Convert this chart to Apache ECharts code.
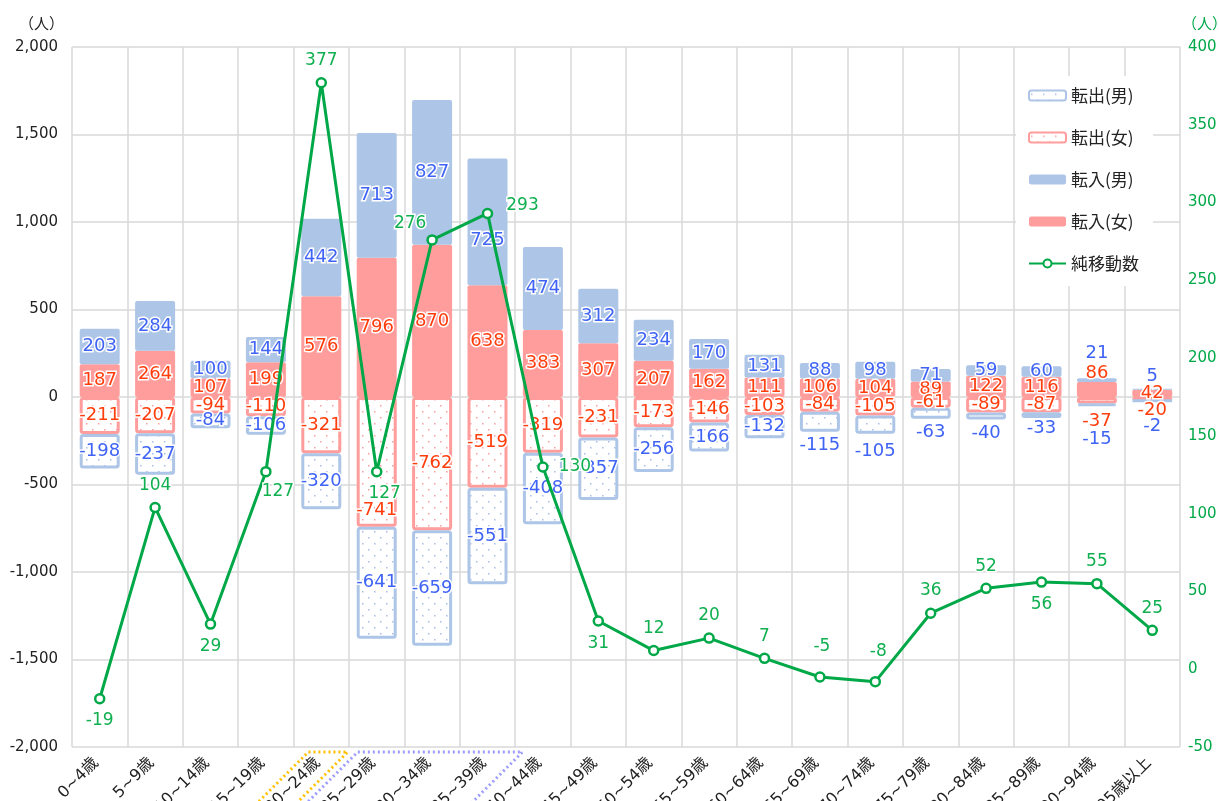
<!DOCTYPE html>
<html>
<head>
<meta charset="utf-8">
<script src="https://cdn.jsdelivr.net/npm/echarts@6/dist/echarts.min.js"></script>
<style>
html, body { margin: 0; padding: 0; background: #fff; }
#chart-content { width: 1219px; height: 801px; }
</style>
</head>
<body>
<div id="chart-content"></div>
<script>
// 年齢区分
const categories = ['0~4歳', '5~9歳', '10~14歳', '15~19歳', '20~24歳', '25~29歳', '30~34歳', '35~39歳', '40~44歳', '45~49歳',
  '50~54歳', '55~59歳', '60~64歳', '65~69歳', '70~74歳', '75~79歳', '80~84歳', '85~89歳', '90~94歳', '95歳以上'];
const inMale = [203, 284, 100, 144, 442, 713, 827, 725, 474, 312, 234, 170, 131, 88, 98, 71, 59, 60, 21, 5];
const inFemale = [187, 264, 107, 199, 576, 796, 870, 638, 383, 307, 207, 162, 111, 106, 104, 89, 122, 116, 86, 42];
const outFemale = [-211, -207, -94, -110, -321, -741, -762, -519, -319, -231, -173, -146, -103, -84, -105, -61, -89, -87, -37, -20];
const outMale = [-198, -237, -84, -106, -320, -641, -659, -551, -408, -357, -256, -166, -132, -115, -105, -63, -40, -33, -15, -2];
const netMove = [-19, 104, 29, 127, 377, 127, 276, 293, 130, 31, 12, 20, 7, -5, -8, 36, 52, 56, 55, 25];

const leftTicks = { min: -2000, max: 2000, interval: 500 };
const rightTicks = { min: -50, max: 400, interval: 50 };

const BLUE = '#adc5e6';
const PINK = '#ff9c9c';
const GREEN = '#00a848';
const FONT = '"DejaVu Sans", "Noto Sans CJK JP", sans-serif';
const JP = '"Noto Sans CJK JP", sans-serif';

// ずれたラベルの位置調整（px）
const barLabelShift = {
  inMale: { 7: 18, 18: -27, 19: -13 },
  inFemale: { 18: -16 },
  outFemale: { 5: 48, 18: 21, 19: 12 },
  outMale: { 13: 24, 14: 27, 15: 19, 16: 17, 17: 13, 18: 35, 19: 26 }
};
const netLabelPos = {
  0: { position: 'bottom' },
  2: { position: 'bottom' },
  3: { position: 'bottom', offset: [12, -2] },
  5: { position: 'bottom', offset: [8, 0] },
  6: { position: 'top', offset: [-22, 6] },
  7: { position: 'right', offset: [5, -8] },
  8: { position: 'right', offset: [2, 0] },
  9: { position: 'bottom' },
  13: { position: 'top', offset: [2, -8] },
  14: { position: 'top', offset: [3, -8] },
  17: { position: 'bottom' }
};

function dotPattern(color) {
  const c = document.createElement('canvas');
  c.width = 12; c.height = 12;
  const ctx = c.getContext('2d');
  ctx.fillStyle = '#fff';
  ctx.fillRect(0, 0, 12, 12);
  ctx.fillStyle = color;
  ctx.fillRect(2, 3, 1.5, 1.5);
  ctx.fillRect(8, 9, 1.5, 1.5);
  return { image: c, repeat: 'repeat' };
}

function barData(values, key) {
  const shift = barLabelShift[key] || {};
  return values.map((v, i) => shift[i] !== undefined
    ? { value: v, label: { offset: [0, shift[i]] } }
    : v);
}

const chart = echarts.init(document.getElementById('chart-content'));

const labelBase = {
  show: true,
  position: 'inside',
  fontSize: 18,
  fontFamily: FONT,
  textBorderColor: '#fff',
  textBorderWidth: 3
};

const option = {
  animation: false,
  textStyle: { fontFamily: FONT },
  grid: { left: 72, right: 39, top: 47, bottom: 54, outerBoundsMode: 'none', containLabel: false },
  legend: {
    orient: 'vertical',
    left: 1016,
    top: 76,
    padding: [11, 14, 14, 12],
    backgroundColor: '#fff',
    itemWidth: 37,
    itemHeight: 10,
    itemGap: 25,
    textStyle: { fontSize: 17, color: '#222', fontFamily: JP },
    data: ['転出(男)', '転出(女)', '転入(男)', '転入(女)', '純移動数']
  },
  xAxis: {
    type: 'category',
    data: categories,
    axisLine: { show: false, onZero: false },
    axisTick: { show: false },
    splitLine: { show: true, lineStyle: { color: '#d9d9d9', width: 1.5 } },
    axisLabel: { rotate: 45, fontSize: 16, color: '#222', margin: 10, interval: 0, padding: [0, 5, 0, 0] }
  },
  yAxis: [
    {
      type: 'value',
      ...leftTicks,
      name: '（人）',
      nameGap: 16,
      nameTextStyle: { fontSize: 15, color: '#222', align: 'right', padding: [0, 8, 0, 0], fontFamily: JP },
      axisLine: { show: false },
      axisTick: { show: false },
      splitLine: { lineStyle: { color: '#d9d9d9', width: 1.5 } },
      axisLabel: { fontSize: 15, color: '#222', margin: 14, formatter: v => v.toLocaleString('en-US') }
    },
    {
      type: 'value',
      ...rightTicks,
      name: '（人）',
      nameGap: 16,
      nameTextStyle: { fontSize: 15, color: GREEN, align: 'left', padding: [0, 0, 0, 2], fontFamily: JP },
      axisLine: { show: false },
      axisTick: { show: false },
      splitLine: { show: false },
      axisLabel: { fontSize: 15, color: GREEN, margin: 8 }
    }
  ],
  series: [
    {
      name: '転入(女)',
      type: 'bar',
      stack: 'move',
      barWidth: 40,
      data: barData(inFemale, 'inFemale'),
      itemStyle: { color: PINK, borderRadius: 2 },
      label: { ...labelBase, color: '#ff3d0c' }
    },
    {
      name: '転入(男)',
      type: 'bar',
      stack: 'move',
      data: barData(inMale, 'inMale'),
      itemStyle: { color: BLUE, borderRadius: 2 },
      label: { ...labelBase, color: '#3f63f5' }
    },
    {
      name: '転出(女)',
      type: 'bar',
      stack: 'move',
      data: barData(outFemale, 'outFemale'),
      itemStyle: { color: dotPattern('#f7a0a0'), borderColor: PINK, borderWidth: 3, borderRadius: 2 },
      label: { ...labelBase, color: '#ff3d0c' }
    },
    {
      name: '転出(男)',
      type: 'bar',
      stack: 'move',
      data: barData(outMale, 'outMale'),
      itemStyle: { color: dotPattern('#a8bee6'), borderColor: BLUE, borderWidth: 3, borderRadius: 2 },
      label: { ...labelBase, color: '#3f63f5' }
    },
    {
      name: '純移動数',
      type: 'line',
      yAxisIndex: 1,
      z: 5,
      symbol: 'circle',
      symbolSize: 9,
      data: netMove.map((v, i) => netLabelPos[i] ? { value: v, label: netLabelPos[i] } : v),
      lineStyle: { color: GREEN, width: 3 },
      itemStyle: { color: '#fff', borderColor: GREEN, borderWidth: 2.5 },
      label: {
        show: true,
        position: 'top',
        distance: 8,
        fontSize: 17,
        fontFamily: FONT,
        color: '#10b050',
        textBorderColor: '#fff',
        textBorderWidth: 3
      }
    }
  ]
};
chart.setOption(option);

// 軸ラベルの強調枠（点線）
const topY = 752;
const drop = 60;
function frame(x1, x2, color) {
  return {
    type: 'polyline',
    silent: true,
    z: 10,
    shape: { points: [[x1 - drop, topY + drop], [x1, topY], [x2, topY], [x2 - drop, topY + drop]] },
    style: { stroke: color, lineWidth: 3, lineDash: [2, 3], fill: null }
  };
}
const cx = i => chart.convertToPixel({ xAxisIndex: 0 }, categories[i]);
chart.setOption({
  graphic: [
    frame(cx(4) - 13, cx(5) - 29, '#ffc000'),
    frame(cx(5) - 19, cx(7) + 35, '#9c9cff')
  ]
});
</script>
</body>
</html>
